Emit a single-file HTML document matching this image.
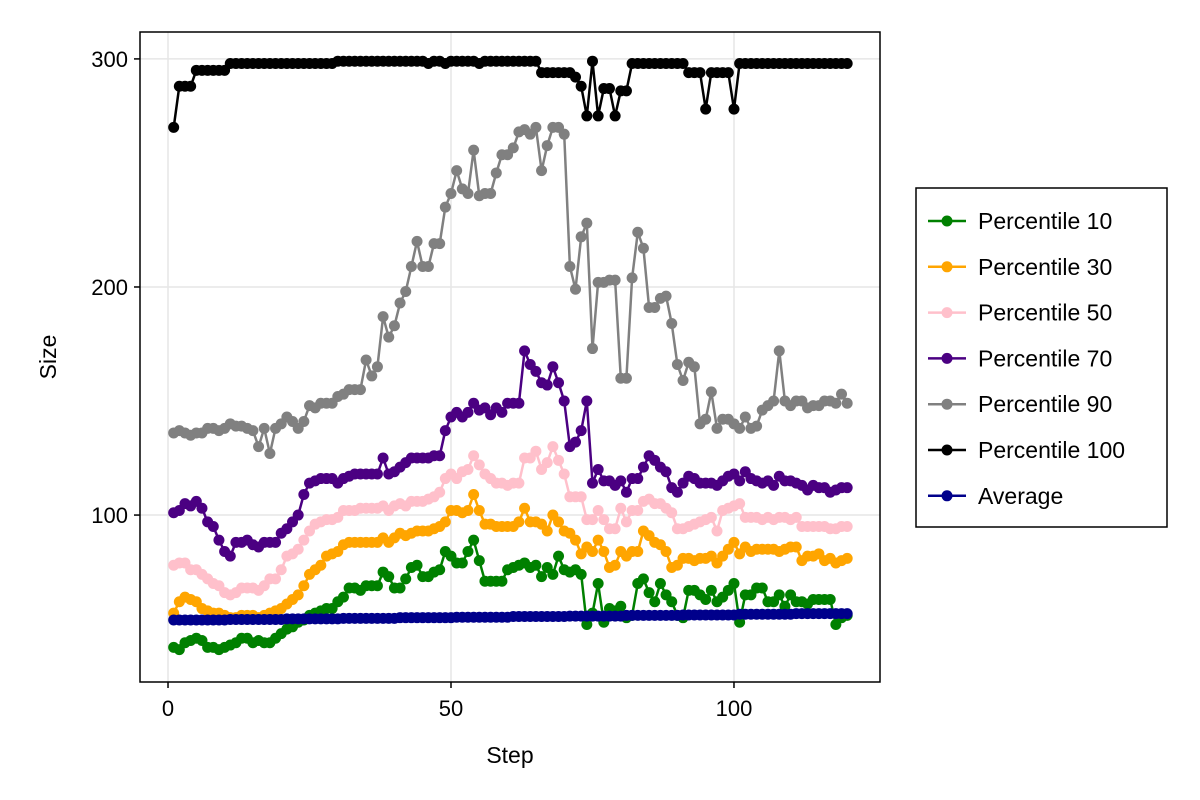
<!DOCTYPE html>
<html><head><meta charset="utf-8"><style>
html,body{margin:0;padding:0;background:#fff;}
svg{display:block;font-family:"Liberation Sans",sans-serif;}
</style></head><body>
<svg id="chart" width="1200" height="800" viewBox="0 0 1200 800" xmlns="http://www.w3.org/2000/svg">
<rect x="0" y="0" width="1200" height="800" fill="#fff"/>
<g id="grid"></g>
<g id="series"></g>
<rect x="140" y="32" width="740" height="650" fill="none" stroke="#000" stroke-width="1.5"/>
<g id="ticks"></g>
<text x="510" y="763" font-size="23" text-anchor="middle">Step</text>
<text x="56" y="357" font-size="23" text-anchor="middle" transform="rotate(-90 56 357)">Size</text>
<g id="legend"></g>
</svg>
<script>
const steps = Array.from({length:120},(_,i)=>i+1);
const p10 = [42,41,44,45,46,45,42,42,41,42,43,44,46,46,44,45,44,44,46,48,50,51,53,54,56,57,58,59,59,62,64,68,68,67,69,69,69,75,73,68,68,72,77,78,73,73,75,76,84,82,79,79,84,89,80,71,71,71,71,76,77,78,79,77,78,73,77,74,82,76,75,76,74,52,57,70,53,59,58,60,55,56,70,72,66,62,70,65,62,56,55,67,67,65,63,67,62,64,67,70,53,65,65,68,68,62,62,65,60,65,62,62,61,63,63,63,63,52,55,56];
const p30 = [57,62,64,63,62,59,58,57,57,56,55,55,56,56,56,55,56,57,58,59,61,63,65,69,74,76,78,82,83,84,87,88,88,88,88,88,88,90,88,90,92,91,92,93,93,93,94,95,97,102,102,101,102,109,102,96,96,95,95,95,95,97,103,97,97,96,93,100,97,93,92,89,83,86,84,89,84,77,78,84,82,84,84,93,91,88,87,84,77,78,81,81,80,81,81,82,79,82,85,88,83,86,84,85,85,85,85,84,85,86,86,80,82,82,83,80,81,79,80,81];
const p50 = [78,79,79,76,76,74,72,70,69,66,65,66,68,68,68,67,69,72,72,76,82,83,85,89,93,96,97,98,98,99,102,102,102,103,103,103,103,104,102,104,105,104,106,106,106,107,108,110,116,118,116,119,120,126,122,118,116,114,114,113,114,114,125,125,128,120,123,130,124,118,108,108,108,98,98,102,98,94,94,103,97,102,102,106,107,105,105,103,101,94,94,95,96,97,98,99,93,102,103,104,105,99,99,99,98,99,98,99,99,98,99,95,95,95,95,95,94,94,95,95];
const p70 = [101,102,105,104,106,103,97,95,89,84,82,88,88,89,87,86,88,88,88,92,94,97,100,109,114,115,116,116,116,114,116,117,118,118,118,118,118,125,118,119,121,123,125,125,125,125,126,126,137,143,145,143,145,149,146,147,144,147,145,149,149,149,172,166,163,158,157,165,158,150,130,132,137,150,114,120,115,115,113,115,110,116,116,121,126,124,121,119,112,110,114,117,116,114,114,114,113,115,117,118,115,119,116,115,114,115,113,117,115,115,114,113,111,113,112,112,110,111,112,112];
const p90 = [136,137,136,135,136,136,138,138,137,138,140,139,139,138,137,130,138,127,138,140,143,141,138,141,148,147,149,149,149,152,153,155,155,155,168,161,165,187,178,183,193,198,209,220,209,209,219,219,235,241,251,243,241,260,240,241,241,250,258,258,261,268,269,267,270,251,262,270,270,267,209,199,222,228,173,202,202,203,203,160,160,204,224,217,191,191,195,196,184,166,159,167,165,140,142,154,138,142,142,140,138,143,138,139,146,148,150,172,150,148,150,150,147,148,148,150,150,149,153,149];
const p100 = [270,288,288,288,295,295,295,295,295,295,298,298,298,298,298,298,298,298,298,298,298,298,298,298,298,298,298,298,298,299,299,299,299,299,299,299,299,299,299,299,299,299,299,299,299,298,299,299,298,299,299,299,299,299,298,299,299,299,299,299,299,299,299,299,299,294,294,294,294,294,294,292,288,275,299,275,287,287,275,286,286,298,298,298,298,298,298,298,298,298,298,294,294,294,278,294,294,294,294,278,298,298,298,298,298,298,298,298,298,298,298,298,298,298,298,298,298,298,298,298];
const avg = [54.0,54.0,54.0,54.0,54.0,54.0,54.0,54.0,54.0,54.0,54.2,54.2,54.2,54.2,54.2,54.2,54.2,54.2,54.2,54.2,54.5,54.5,54.5,54.5,54.5,54.5,54.5,54.5,54.5,54.5,54.7,54.7,54.7,54.7,54.7,54.7,54.7,54.7,54.7,54.7,55.0,55.0,55.0,55.0,55.0,55.0,55.0,55.0,55.0,55.0,55.2,55.2,55.2,55.2,55.2,55.2,55.2,55.2,55.2,55.2,55.5,55.5,55.5,55.5,55.5,55.5,55.5,55.5,55.5,55.5,55.7,55.7,55.7,55.7,55.7,55.7,55.7,55.7,55.7,55.7,56.0,56.0,56.0,56.0,56.0,56.0,56.0,56.0,56.0,56.0,56.2,56.2,56.2,56.2,56.2,56.2,56.2,56.2,56.2,56.2,56.5,56.5,56.5,56.5,56.5,56.5,56.5,56.5,56.5,56.5,56.8,56.8,56.8,56.8,56.8,56.8,56.8,56.8,56.8,56.8];
const xTicks = [0,50,100];
const yTicks = [100,200,300];
const seriesNames = ["Percentile 10","Percentile 30","Percentile 50","Percentile 70","Percentile 90","Percentile 100","Average"];
const seriesColors = ["#008000","#ffa500","#ffc0cb","#4b0082","#808080","#000000","#00008b"];
const seriesData = [p10,p30,p50,p70,p90,p100,avg];

const NS="http://www.w3.org/2000/svg";
const X0=140,X1=880,Y0=32,Y1=682;
const xMin=-4.95,xMax=125.8,yMin=26.8,yMax=311.8;
function sx(v){return X0+(v-xMin)/(xMax-xMin)*(X1-X0);}
function sy(v){return Y1-(v-yMin)/(yMax-yMin)*(Y1-Y0);}
function mk(tag,attrs,parent){const e=document.createElementNS(NS,tag);for(const k in attrs)e.setAttribute(k,attrs[k]);parent.appendChild(e);return e;}

const grid=document.getElementById('grid'),ticks=document.getElementById('ticks');
xTicks.forEach(t=>{
  const l=mk('line',{x1:sx(t),x2:sx(t),y1:Y0,y2:Y1,stroke:'#e6e6e6','stroke-width':1.5},grid);
  
  
  const tk=mk('line',{x1:sx(t),x2:sx(t),y1:Y1,y2:Y1+6,stroke:'#000','stroke-width':1.5},ticks);
  
  
  const tx=mk('text',{x:sx(t),y:Y1+34,'font-size':22,'text-anchor':'middle'},ticks);
  tx.textContent=t;
  
  
});
yTicks.forEach(t=>{
  const l=mk('line',{x1:X0,x2:X1,y1:sy(t),y2:sy(t),stroke:'#e6e6e6','stroke-width':1.5},grid);
  
  
  const tk=mk('line',{x1:X0-6,x2:X0,y1:sy(t),y2:sy(t),stroke:'#000','stroke-width':1.5},ticks);
  
  
  const tx=mk('text',{x:X0-12,y:sy(t)+8,'font-size':22,'text-anchor':'end'},ticks);
  tx.textContent=t;
  
  
});

const sg=document.getElementById('series');
seriesData.forEach((d,si)=>{
  const g=mk('g',{},sg);
  
  
  const pts=d.map((v,i)=>sx(steps[i]).toFixed(1)+','+sy(v).toFixed(1)).join(' ');
  const pl=mk('polyline',{points:pts,fill:'none',stroke:seriesColors[si],'stroke-width':2.5,'stroke-linejoin':'round'},g);
  
  
  d.forEach((v,i)=>{
    const c=mk('circle',{cx:sx(steps[i]),cy:sy(v),r:5.5,fill:seriesColors[si]},g);
    
    
  });
});

const lg=document.getElementById('legend');
const box=mk('rect',{x:916,y:188,width:251,height:339,fill:'#fff',stroke:'#000','stroke-width':1.5},lg);


seriesNames.forEach((n,i)=>{
  const y=221+i*45.8;
  const g=mk('g',{},lg);
  
  
  mk('line',{x1:928,x2:966,y1:y,y2:y,stroke:seriesColors[i],'stroke-width':2.5},g);
  mk('circle',{cx:947,cy:y,r:5.5,fill:seriesColors[i]},g);
  const t=mk('text',{x:978,y:y+8,'font-size':23},g);
  t.textContent=n;
  
  
});
</script>
</body></html>
